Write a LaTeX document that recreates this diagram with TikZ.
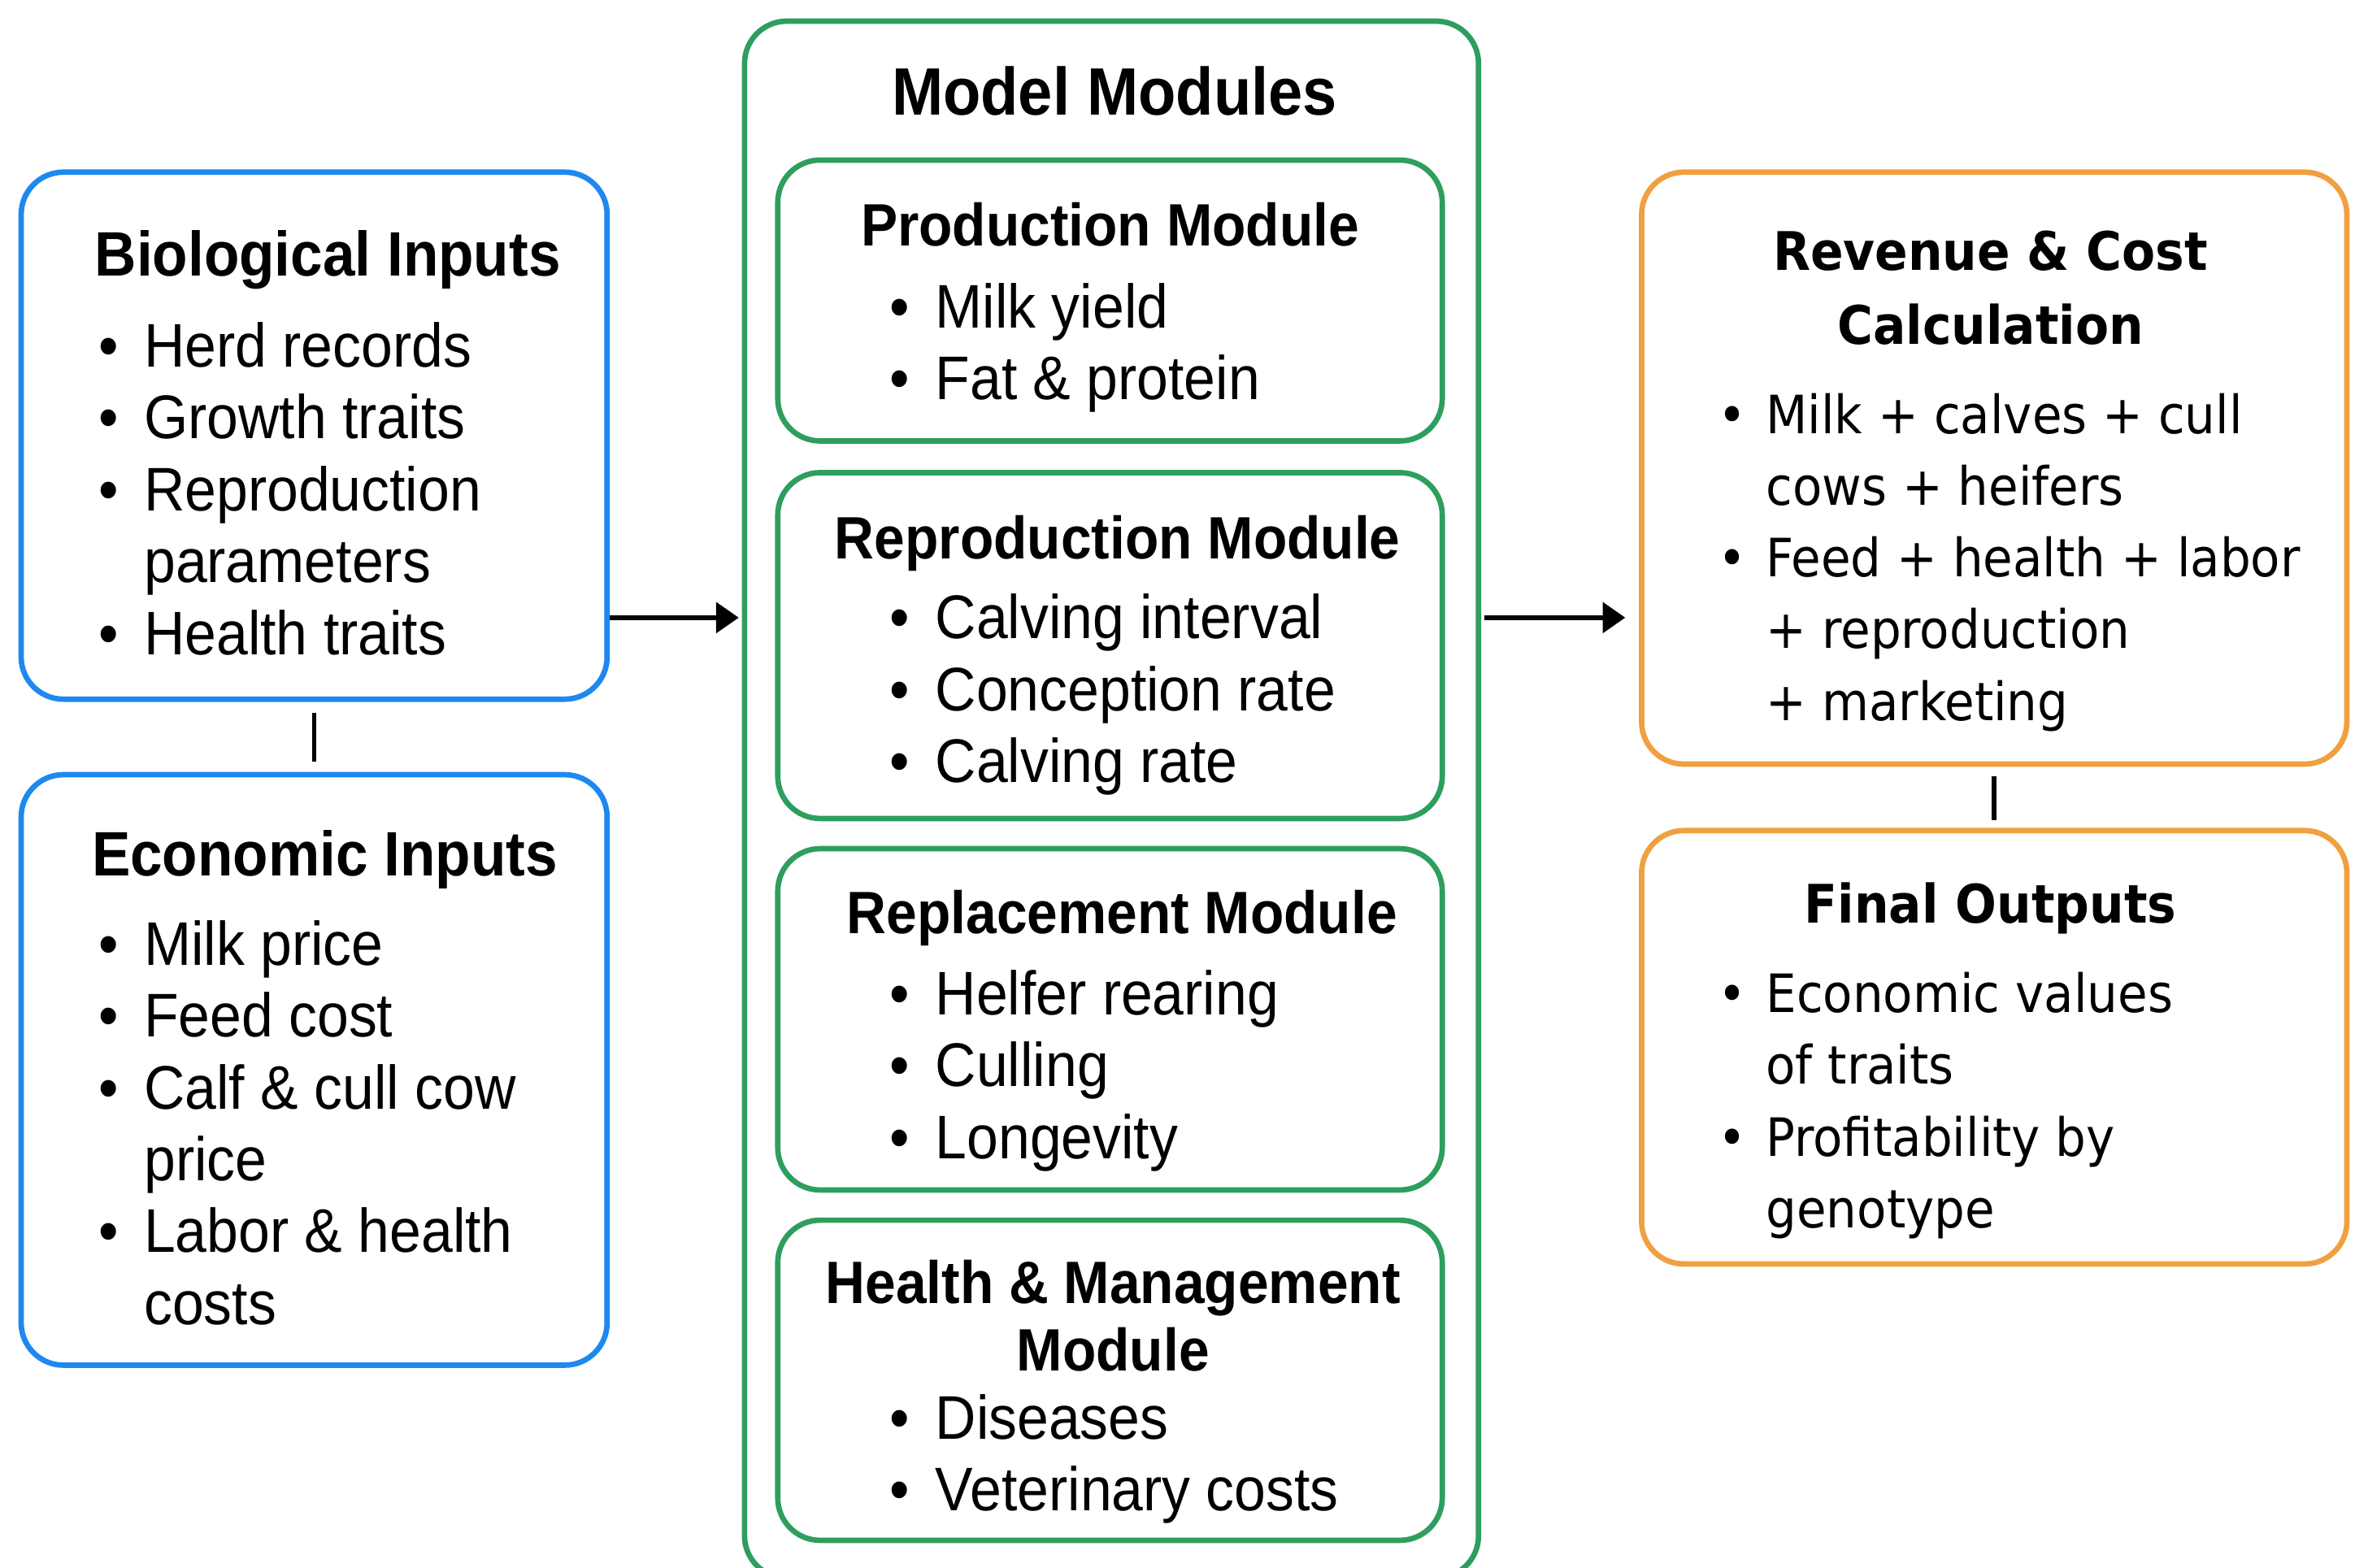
\documentclass[tikz,border=0pt]{standalone}
\usepackage{fontspec}
\usetikzlibrary{arrows.meta}
\newfontfamily\lfont[FakeStretch=0.92]{Liberation Sans}
\newfontfamily\rfont[FakeStretch=0.915]{DejaVu Sans}
\definecolor{inblue}{HTML}{1E88F0}
\definecolor{modgreen}{HTML}{2E9E5E}
\definecolor{outorange}{HTML}{F0A040}
\newcommand\bullL{\makebox[15pt][l]{\textbullet}}
\newcommand\contL{\hspace*{15pt}}
\newcommand\bullR{\makebox[16pt][l]{\textbullet}}
\newcommand\contR{\hspace*{16pt}}

\begin{document}
\begin{tikzpicture}[x=0.5pt, y=-0.5pt,
  box/.style={draw, rounded corners=14pt, line width=1.8pt, inner sep=0pt},
  inbox/.style={box, draw=inblue},
  modbox/.style={box, draw=modgreen, minimum width=220pt},
  outbox/.style={box, draw=outorange, minimum width=233.5pt},
  ttl/.style={anchor=base, align=center, inner sep=0pt, font=\lfont\bfseries\fontsize{20.8}{22.5}\selectfont},
  modttl/.style={ttl, font=\lfont\bfseries\fontsize{19.8}{22.5}\selectfont},
  lst/.style={anchor=base west, align=left, inner sep=0pt, font=\lfont\fontsize{20.4}{23.8}\selectfont},
  rttl/.style={anchor=base, align=center, inner sep=0pt, font=\rfont\bfseries\fontsize{17.6}{24.5}\selectfont},
  rlst/.style={anchor=base west, align=left, inner sep=0pt, font=\rfont\fontsize{17.5}{23.75}\selectfont},
  arr/.style={line width=1.5pt, -{Triangle[length=7.5pt,width=10pt]}},
  link/.style={line width=1.5pt}]
\useasboundingbox (0,0) rectangle (1568,1038);

% inputs (lists are placed at the baseline of their last line)
\node[inbox, minimum width=194pt, minimum height=174.5pt] (bio) at (208,288.5) {};
\node[ttl] (biot) at (217,183) {Biological Inputs};
\node[lst] (biol) at (65,433.4) {\bullL Herd records\\ \bullL Growth traits\\ \bullL Reproduction\\ \contL parameters\\ \bullL Health traits};

\node[inbox, minimum width=194pt, minimum height=195.5pt] (eco) at (208,708.5) {};
\node[ttl] (ecot) at (215,580) {Economic Inputs};
\node[lst] (ecol) at (65,877) {\bullL Milk price\\ \bullL Feed cost\\ \bullL Calf \& cull cow\\ \contL price\\ \bullL Labor \& health\\ \contL costs};

% model modules
\node[box, draw=modgreen, minimum width=243pt, minimum height=515.5pt] (mm) at (736,529.5) {};
\node[ttl, font=\lfont\bfseries\fontsize{22.2}{24}\selectfont] (mmt) at (738,76) {Model Modules};

\node[modbox, minimum height=93pt] (prod) at (735,199) {};
\node[modttl] (prodt) at (735,163) {Production Module};
\node[lst] (prodl) at (589,264.6) {\bullL Milk yield\\ \bullL Fat \& protein};

\node[modbox, minimum height=114.5pt] (repro) at (735,427.5) {};
\node[modttl] (reprot) at (740,370) {Reproduction Module};
\node[lst] (reprol) at (589,518.2) {\bullL Calving interval\\ \bullL Conception rate\\ \bullL Calving rate};

\node[modbox, minimum height=113pt] (repl) at (735,675) {};
\node[modttl] (replt) at (743,618) {Replacement Module};
\node[lst] (repll) at (589,767.2) {\bullL Helfer rearing\\ \bullL Culling\\ \bullL Longevity};

\node[modbox, minimum height=106pt] (health) at (735,914) {};
\node[modttl] (healtht) at (737,908) {Health \& Management\\ Module};
\node[lst] (healthl) at (589,1000.6) {\bullL Diseases\\ \bullL Veterinary costs};

% outputs
\node[outbox, minimum height=196pt] (rev) at (1320.5,310) {};
\node[rttl] (revt) at (1318,228) {Revenue \& Cost\\ Calculation};
\node[rlst] (revl) at (1137,477) {\bullR Milk + calves + cull\\ \contR cows + heifers\\ \bullR Feed + health + labor\\ \contR + reproduction\\ \contR + marketing};

\node[outbox, minimum height=143.5pt] (fin) at (1320.5,693.5) {};
\node[rttl] (fint) at (1318,611) {Final Outputs};
\node[rlst] (finl) at (1137,813) {\bullR Economic values\\ \contR of traits\\ \bullR Profitability by\\ \contR genotype};

% connectors
\draw[link, shorten <=3.5pt, shorten >=3.5pt] (bio) -- (eco);
\draw[link, shorten <=3pt, shorten >=2.5pt] (rev) -- (fin);
\draw[arr, shorten >=1pt] ([yshift=-60.25pt]bio.east) -- ([yshift=60.25pt]mm.west);
\draw[arr, shorten <=1pt, shorten >=4.5pt] ([yshift=60.25pt]mm.east) -- ([yshift=-49.5pt]rev.west);
\end{tikzpicture}
\end{document}
